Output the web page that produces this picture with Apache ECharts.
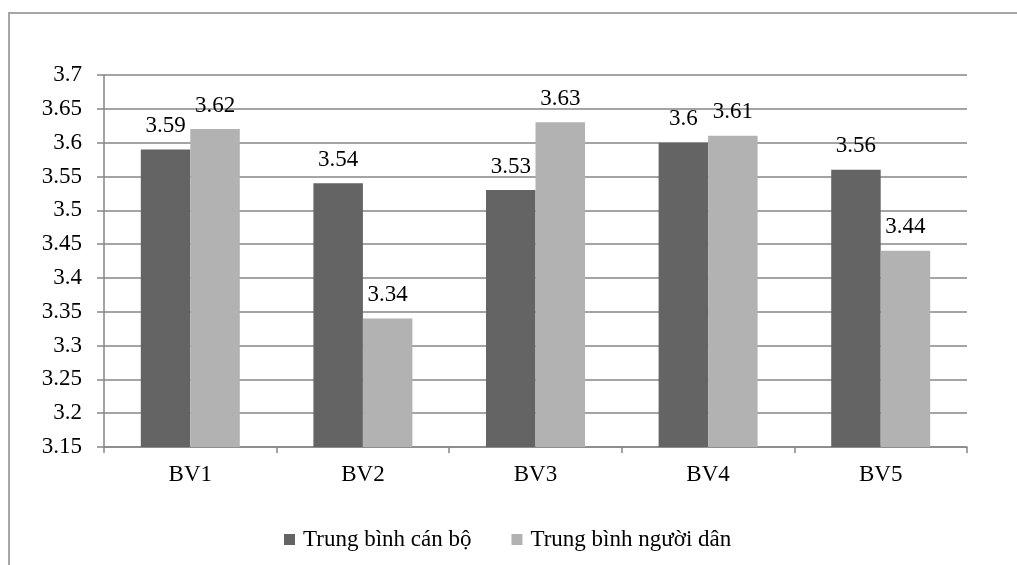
<!DOCTYPE html>
<html>
<head>
<meta charset="utf-8">
<script src="https://cdn.jsdelivr.net/npm/echarts@6/dist/echarts.min.js"></script>
<style>
html,body{margin:0;padding:0;background:#fff;}
#frame{position:absolute;left:8px;top:12px;width:1100px;height:600px;border-left:2px solid #a6a6a6;border-top:2px solid #a6a6a6;box-sizing:border-box;}
#chart{position:absolute;left:0;top:0;width:1017px;height:565px;}
</style>
</head>
<body>
<div id="frame"></div>
<div id="chart"></div>
<script>
var categories = ['BV1', 'BV2', 'BV3', 'BV4', 'BV5'];
var canBo = [3.59, 3.54, 3.53, 3.6, 3.56];
var nguoiDan = [3.62, 3.34, 3.63, 3.61, 3.44];
var seriesNames = ['Trung bình cán bộ', 'Trung bình người dân'];
var yMin = 3.15, yMax = 3.7, yStep = 0.05;

var FONT = 'Liberation Serif';
var FS = 23;
var chart = echarts.init(document.getElementById('chart'), null, {renderer: 'canvas'});
function fmt(v) { return String(+(+v).toFixed(2)); }
var labelStyle = {show: true, position: 'top', distance: 12, color: '#000', fontFamily: FONT, fontSize: FS, formatter: function (p) { return fmt(p.value); }};
chart.setOption({
  animation: false,
  textStyle: {fontFamily: FONT},
  grid: {left: 104, right: 50, top: 75, bottom: 118, containLabel: false},
  legend: {
    data: seriesNames, left: 279, top: 523, itemWidth: 11, itemHeight: 11, itemGap: 40,
    icon: 'rect',
    textStyle: {fontFamily: FONT, fontSize: FS, color: '#000', padding: [0, 0, 0, 3]}
  },
  xAxis: {
    type: 'category', data: categories,
    axisLine: {lineStyle: {color: '#868686', width: 1.5}},
    axisTick: {show: true, length: 6, lineStyle: {color: '#868686', width: 1.5}},
    axisLabel: {fontFamily: FONT, fontSize: FS, color: '#000', margin: 16}
  },
  yAxis: {
    type: 'value', min: yMin, max: yMax, interval: yStep,
    axisLine: {show: true, lineStyle: {color: '#868686', width: 1.5}},
    axisTick: {show: true, length: 7, lineStyle: {color: '#868686', width: 1.5}},
    splitLine: {lineStyle: {color: '#868686', width: 1.5}},
    axisLabel: {fontFamily: FONT, fontSize: FS, color: '#000', margin: 22, formatter: fmt}
  },
  series: [
    {name: seriesNames[0], type: 'bar', data: canBo, barWidth: 49.5, barGap: '0%', itemStyle: {color: '#646464'}, label: labelStyle},
    {name: seriesNames[1], type: 'bar', data: nguoiDan, barWidth: 49.5, barGap: '0%', itemStyle: {color: '#b2b2b2'}, label: labelStyle}
  ]
});
</script>
</body>
</html>
